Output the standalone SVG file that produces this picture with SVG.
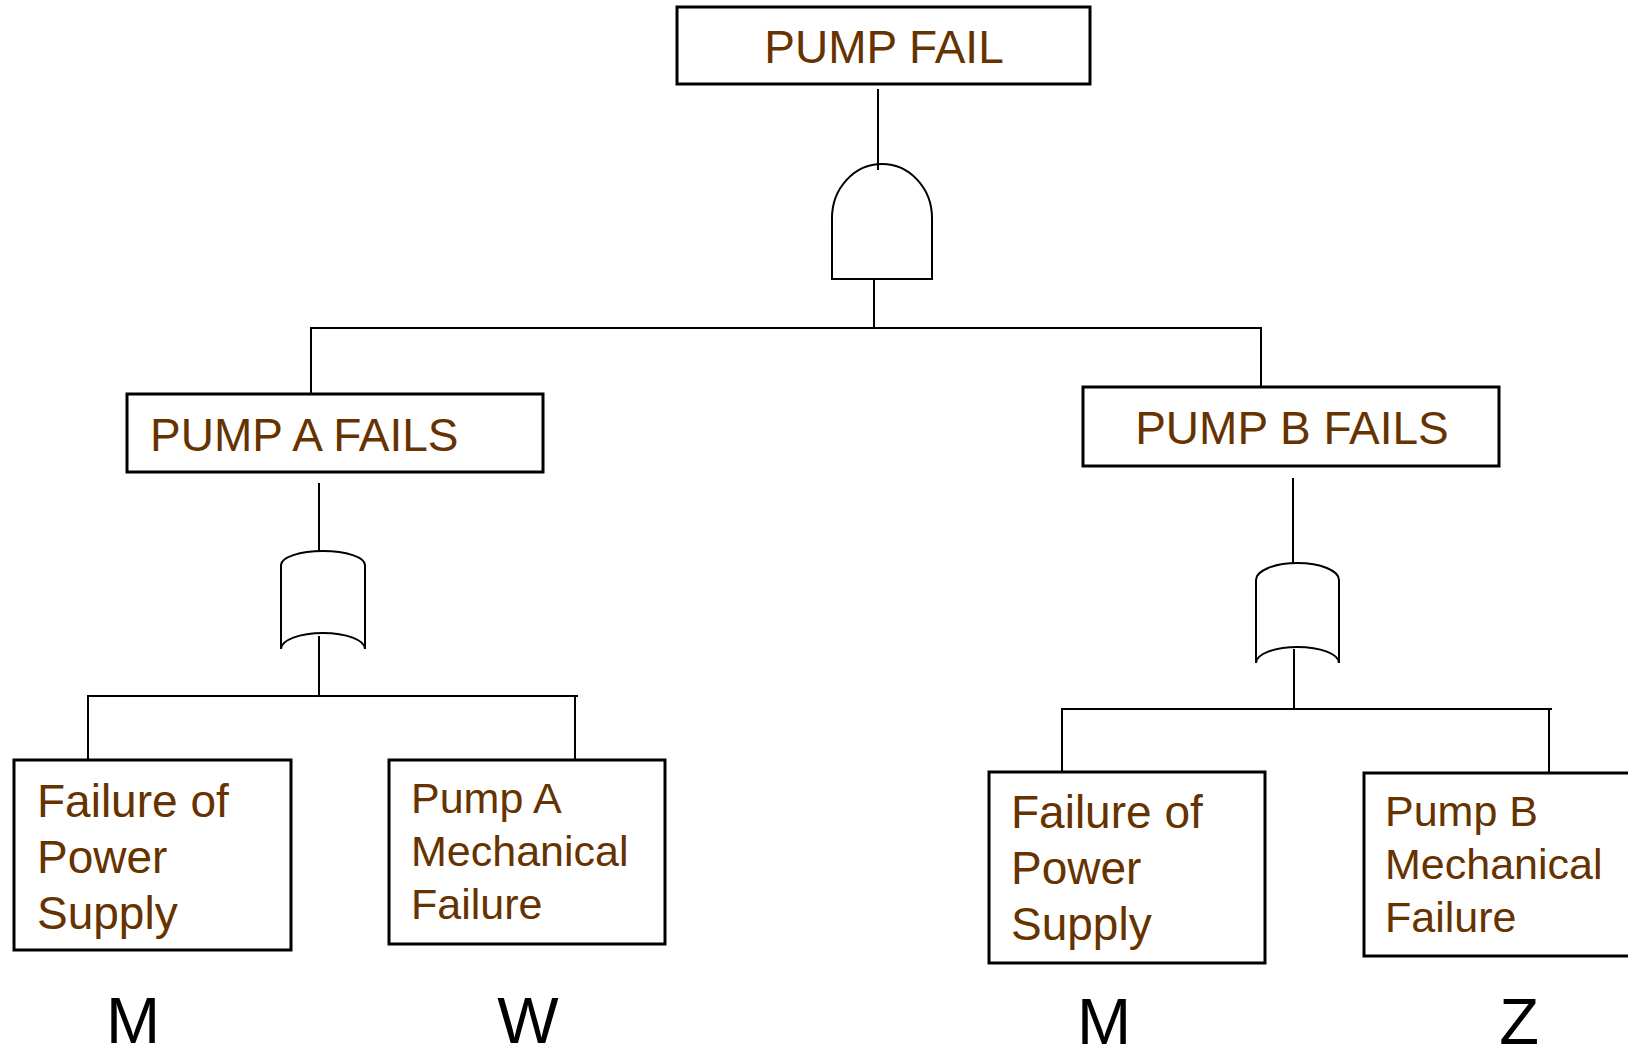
<svg xmlns="http://www.w3.org/2000/svg" width="1628" height="1059" viewBox="0 0 1628 1059">
<style>
.box{fill:#ffffff;stroke:#000;stroke-width:3}
.gate{fill:#ffffff;stroke:#000;stroke-width:2}
.ln{fill:none;stroke:#000;stroke-width:2}
.t{font-family:"Liberation Sans",Arial,sans-serif;fill:#663300}
.h{font-size:46px}
.s{font-size:43px}
.lbl{font-family:"Liberation Sans",Arial,sans-serif;font-size:65px;fill:#000;text-anchor:middle}
</style>
<rect width="1628" height="1059" fill="#ffffff"/>
<g id="connectors">
<line class="ln" x1="878" y1="89" x2="878" y2="170"/>
<line class="ln" x1="874" y1="279" x2="874" y2="328"/>
<line class="ln" x1="311" y1="328" x2="1261" y2="328"/>
<line class="ln" x1="311" y1="327" x2="311" y2="394"/>
<line class="ln" x1="1261" y1="327" x2="1261" y2="387"/>
<line class="ln" x1="319" y1="483" x2="319" y2="551"/>
<line class="ln" x1="319" y1="636" x2="319" y2="696"/>
<line class="ln" x1="88" y1="696" x2="578" y2="696"/>
<line class="ln" x1="88" y1="695" x2="88" y2="759"/>
<line class="ln" x1="575" y1="695" x2="575" y2="760"/>
<line class="ln" x1="1293" y1="478" x2="1293" y2="563"/>
<line class="ln" x1="1294" y1="649" x2="1294" y2="709"/>
<line class="ln" x1="1062" y1="709" x2="1552" y2="709"/>
<line class="ln" x1="1062" y1="708" x2="1062" y2="772"/>
<line class="ln" x1="1549" y1="708" x2="1549" y2="773"/>
</g>
<g id="pump-fail">
<rect class="box" x="677" y="7" width="413" height="77"/>
<text class="t h" x="884" y="63" text-anchor="middle">PUMP FAIL</text>
</g>
<g id="and-gate">
<path class="gate" d="M832,279 L832,218 A50,54 0 0 1 932,218 L932,279 Z"/>
<line class="ln" x1="878" y1="164" x2="878" y2="170"/>
</g>
<g id="pump-a-fails">
<rect class="box" x="127" y="394" width="416" height="78"/>
<text class="t h" x="150" y="451">PUMP A FAILS</text>
</g>
<g id="pump-b-fails">
<rect class="box" x="1083" y="387" width="416" height="79"/>
<text class="t h" x="1292" y="444" text-anchor="middle">PUMP B FAILS</text>
</g>
<g id="or-gate-a">
<path class="gate" d="M281,649 L281,565 A42,14 0 0 1 365,565 L365,649 A42,16 0 0 0 281,649 Z"/>
</g>
<g id="or-gate-b">
<path class="gate" d="M1256,663 L1256,580 A41.5,17 0 0 1 1339,580 L1339,663 A41.5,16 0 0 0 1256,663 Z"/>
</g>
<g id="power-a">
<rect class="box" x="14" y="760" width="277" height="190"/>
<text class="t h" x="37"><tspan x="37" y="817">Failure of</tspan><tspan x="37" y="873">Power</tspan><tspan x="37" y="929">Supply</tspan></text>
</g>
<g id="mech-a">
<rect class="box" x="389" y="760" width="276" height="184"/>
<text class="t s" x="411"><tspan x="411" y="813">Pump A</tspan><tspan x="411" y="866">Mechanical</tspan><tspan x="411" y="919">Failure</tspan></text>
</g>
<g id="power-b">
<rect class="box" x="989" y="772" width="276" height="191"/>
<text class="t h" x="1011"><tspan x="1011" y="828">Failure of</tspan><tspan x="1011" y="884">Power</tspan><tspan x="1011" y="940">Supply</tspan></text>
</g>
<g id="mech-b">
<rect class="box" x="1364" y="773" width="300" height="183"/>
<text class="t s" x="1385"><tspan x="1385" y="826">Pump B</tspan><tspan x="1385" y="879">Mechanical</tspan><tspan x="1385" y="932">Failure</tspan></text>
</g>
<g id="labels">
<text class="lbl" x="133" y="1043">M</text>
<text class="lbl" x="528" y="1043">W</text>
<text class="lbl" x="1104" y="1044">M</text>
<text class="lbl" x="1519" y="1044">Z</text>
</g>
</svg>
